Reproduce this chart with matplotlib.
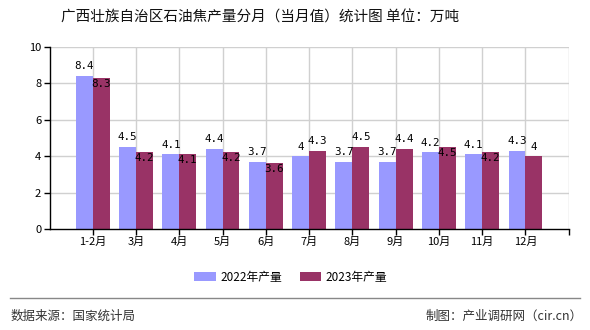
import matplotlib.pyplot as plt
import numpy as np

plt.rcParams['font.family'] = ['Noto Sans CJK SC', 'DejaVu Sans']

# data
months = ["1-2月", "3月", "4月", "5月", "6月", "7月", "8月", "9月", "10月", "11月", "12月"]
prod_2022 = [8.4, 4.5, 4.1, 4.4, 3.7, 4, 3.7, 3.7, 4.2, 4.1, 4.3]
prod_2023 = [8.3, 4.2, 4.1, 4.2, 3.6, 4.3, 4.5, 4.4, 4.5, 4.2, 4]
y_ticks = [0, 2, 4, 6, 8, 10]

c22 = "#9999ff"
c23 = "#993366"


def fmt(v):
    return f"{v:g}"


def main():
    fig = plt.figure(figsize=(5.9, 3.3), dpi=100)
    ax = fig.add_axes([0.0839, 0.306, 0.88, 0.5525])

    x = np.arange(len(months))
    w = 0.39
    ax.bar(x - w / 2, prod_2022, w, color=c22, zorder=2, label="2022年产量")
    ax.bar(x + w / 2, prod_2023, w, color=c23, zorder=2, label="2023年产量")

    # grid behind bars, one line per category slot
    for gx in range(len(months) + 1):
        ax.axvline(gx, color="#d0d0d0", lw=1, zorder=0)
    for gy in y_ticks[1:]:
        ax.axhline(gy, color="#d0d0d0", lw=1, zorder=0)

    lab_font = dict(family="DejaVu Sans Mono", fontsize=7.8, color="black")
    for i, (a, b) in enumerate(zip(prod_2022, prod_2023)):
        ax.text(i - w / 2, a + 0.25, fmt(a), ha="center", va="bottom", zorder=3, **lab_font)
        # second label goes inside the bar when it would clash with the first
        clash = abs(a - b) < 0.6 and len(fmt(a)) > 1 and len(fmt(b)) > 1
        if clash:
            ax.text(i + w / 2, b - 0.05, fmt(b), ha="center", va="top", zorder=3, **lab_font)
        else:
            ax.text(i + w / 2, b + 0.25, fmt(b), ha="center", va="bottom", zorder=3, **lab_font)

    ax.set_xlim(-1, len(months))
    ax.set_ylim(0, 10)
    ax.set_yticks(y_ticks)
    ax.set_yticklabels([str(t) for t in y_ticks], fontsize=8)
    ax.set_xticks(np.arange(len(months) + 1))
    ax.set_xticklabels(months + [""], fontsize=8)
    ax.tick_params(length=4, width=1, color="black", pad=2)
    for s in ["top", "right"]:
        ax.spines[s].set_visible(False)
    for s in ["left", "bottom"]:
        ax.spines[s].set_color("black")
        ax.spines[s].set_linewidth(1)

    fig.text(260 / 590, 1 - 18 / 330, "广西壮族自治区石油焦产量分月（当月值）统计图 单位：万吨",
             ha="center", va="center", fontsize=10.5, color="#111111")

    fig.legend(loc="center", bbox_to_anchor=(291 / 590, 1 - 277 / 330), ncol=2,
               frameon=False, fontsize=8.5, handlelength=1.8, handleheight=0.8,
               columnspacing=1.5, handletextpad=0.4)

    fig.add_artist(plt.Line2D([10 / 590, 580 / 590], [1 - 298 / 330, 1 - 298 / 330],
                              color="#888888", lw=1))
    fig.text(11 / 590, 1 - 316 / 330, "数据来源：国家统计局", ha="left", va="center",
             fontsize=9, color="#333333")
    fig.text(583 / 590, 1 - 316 / 330, "制图：产业调研网（cir.cn）", ha="right", va="center",
             fontsize=9, color="#333333")

    fig.savefig("out.png", dpi=100)


if __name__ == "__main__":
    main()
